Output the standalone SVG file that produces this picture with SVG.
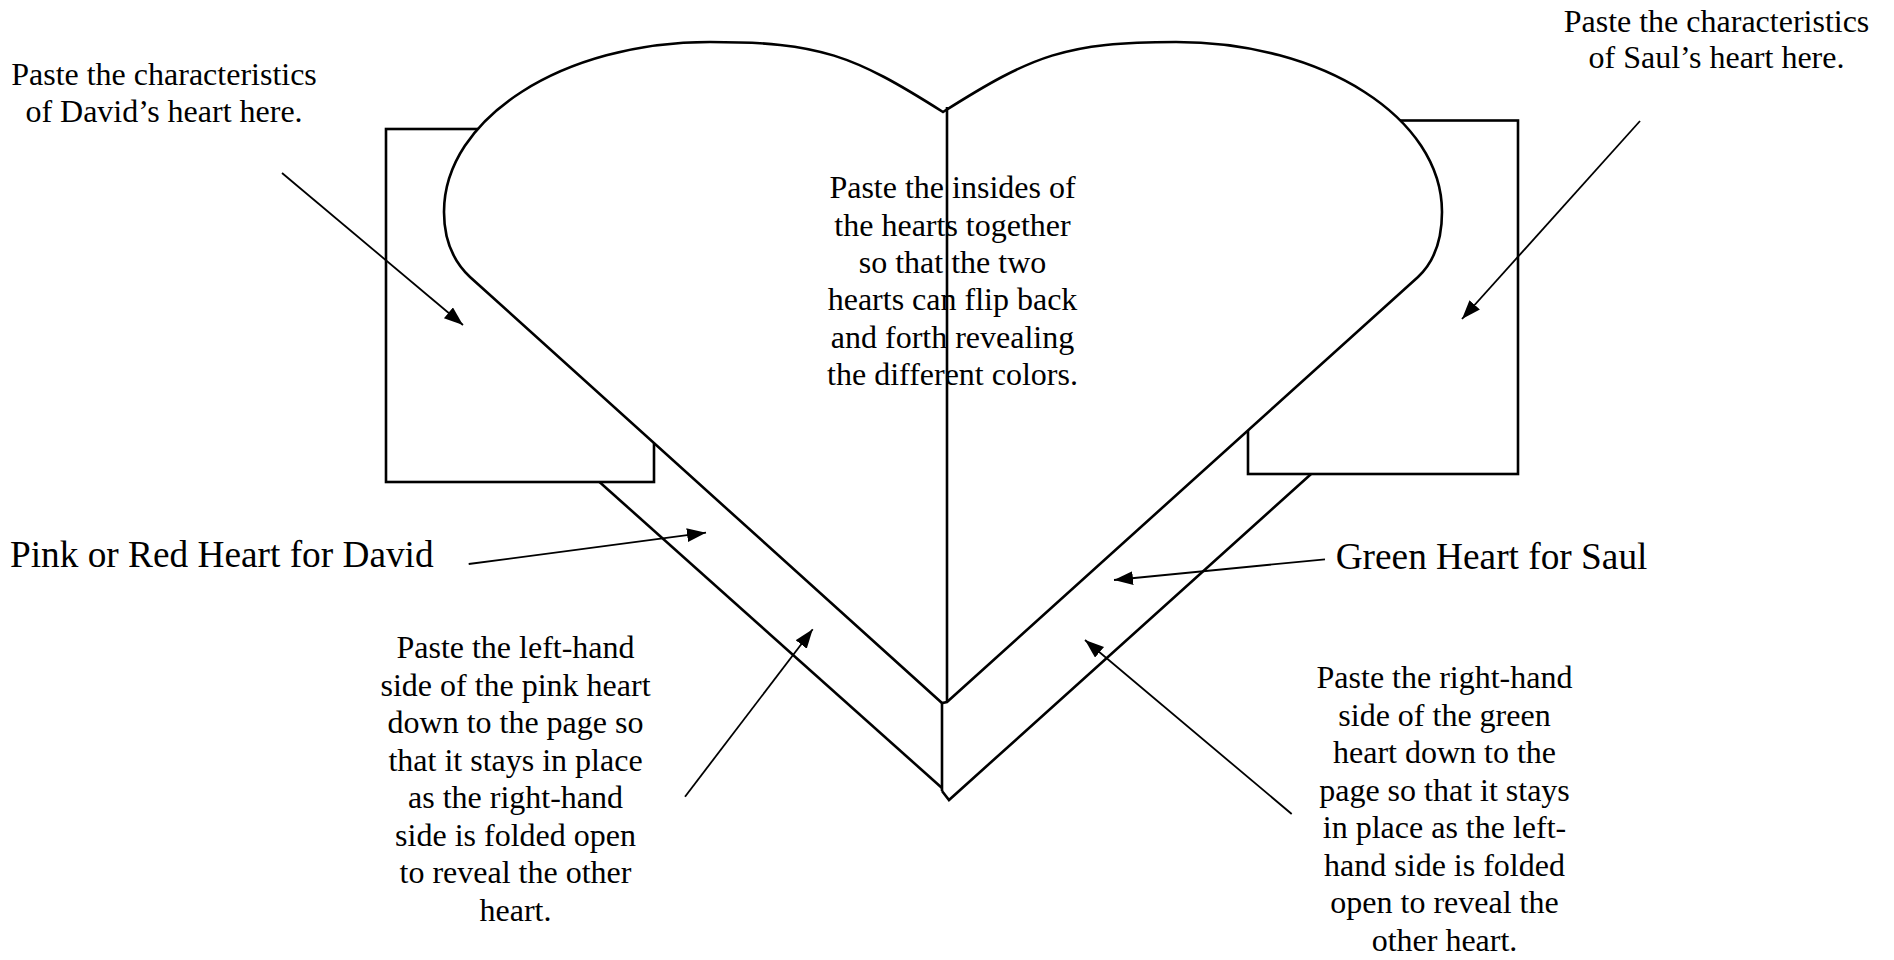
<svg xmlns="http://www.w3.org/2000/svg" width="1894" height="960" viewBox="0 0 1894 960">
  <style>
    .shape { fill: #ffffff; stroke: #000000; stroke-width: 2.6; stroke-linejoin: miter; }
    .line { fill: none; stroke: #000000; stroke-width: 2.6; }
    .arrow { fill: none; stroke: #000000; stroke-width: 1.8; marker-end: url(#ah); }
    .t { font-family: "Liberation Serif", "Times New Roman", serif; font-size: 32px; fill: #000000; text-anchor: middle; }
    .big { font-family: "Liberation Serif", "Times New Roman", serif; font-size: 37.3px; fill: #000000; }
  </style>
  <defs>
    <marker id="ah" markerUnits="userSpaceOnUse" markerWidth="22" markerHeight="16" refX="19" refY="7" orient="auto">
      <path d="M0,0 L19,7 L0,14 Z" fill="#000000"/>
    </marker>
  </defs>
  <rect width="1894" height="960" fill="#ffffff"/>

  <g id="back-heart">
    <path class="line" d="M520,411 L942,788"/>
    <path class="line" d="M942,791 L949,800 L1380,412"/>
  </g>

  <g id="david-panel">
    <rect class="shape" x="386" y="129" width="268" height="353"/>
  </g>
  <g id="saul-panel">
    <rect class="shape" x="1248" y="120.5" width="270" height="353.5"/>
  </g>

  <g id="front-heart">
    <path class="shape" d="M943,112 C853,55 820,42 710,42 C563,42 444,118 444,212 C444,240 454,262 470,277 L942,703 L947,702 L1418,277 C1434,262 1442,240 1442,212 C1442,118 1323,42 1176,42 C1066,42 1033,55 943,112 Z"/>
  </g>

  <g id="center-note">
    <text class="t" x="952.5" y="198.3">Paste the insides of</text>
    <text class="t" x="952.5" y="235.6">the hearts together</text>
    <text class="t" x="952.5" y="272.9">so that the two</text>
    <text class="t" x="952.5" y="310.2">hearts can flip back</text>
    <text class="t" x="952.5" y="347.5">and forth revealing</text>
    <text class="t" x="952.5" y="384.8">the different colors.</text>
  </g>

  <g id="fold-lines">
    <path class="line" d="M947,107 L947,702"/>
    <path class="line" d="M942,703 L942,791"/>
  </g>

  <g id="david-note">
    <text class="t" x="164" y="85">Paste the characteristics</text>
    <text class="t" x="164" y="121.8">of David’s heart here.</text>
  </g>
  <g id="saul-note">
    <text class="t" x="1716.5" y="31.5">Paste the characteristics</text>
    <text class="t" x="1716.5" y="68.3">of Saul’s heart here.</text>
  </g>
  <g id="pink-label">
    <text class="big" x="10" y="567">Pink or Red Heart for David</text>
  </g>
  <g id="green-label">
    <text class="big" x="1335.7" y="569">Green Heart for Saul</text>
  </g>
  <g id="left-note">
    <text class="t" x="515.5" y="658.3">Paste the left-hand</text>
    <text class="t" x="515.5" y="695.8">side of the pink heart</text>
    <text class="t" x="515.5" y="733.3">down to the page so</text>
    <text class="t" x="515.5" y="770.8">that it stays in place</text>
    <text class="t" x="515.5" y="808.3">as the right-hand</text>
    <text class="t" x="515.5" y="845.8">side is folded open</text>
    <text class="t" x="515.5" y="883.3">to reveal the other</text>
    <text class="t" x="515.5" y="920.8">heart.</text>
  </g>
  <g id="right-note">
    <text class="t" x="1444.5" y="688.3">Paste the right-hand</text>
    <text class="t" x="1444.5" y="725.8">side of the green</text>
    <text class="t" x="1444.5" y="763.3">heart down to the</text>
    <text class="t" x="1444.5" y="800.8">page so that it stays</text>
    <text class="t" x="1444.5" y="838.3">in place as the left-</text>
    <text class="t" x="1444.5" y="875.8">hand side is folded</text>
    <text class="t" x="1444.5" y="913.3">open to reveal the</text>
    <text class="t" x="1444.5" y="950.8">other heart.</text>
  </g>

  <g id="connectors">
    <line class="arrow" x1="282" y1="173" x2="463" y2="325"/>
    <line class="arrow" x1="1640" y1="121" x2="1462" y2="319"/>
    <line class="arrow" x1="468.7" y1="564" x2="706" y2="532.7"/>
    <line class="arrow" x1="1325" y1="559.3" x2="1114" y2="580"/>
    <line class="arrow" x1="685" y1="796.7" x2="812.7" y2="629.3"/>
    <line class="arrow" x1="1291.7" y1="814" x2="1085" y2="640"/>
  </g>
</svg>
